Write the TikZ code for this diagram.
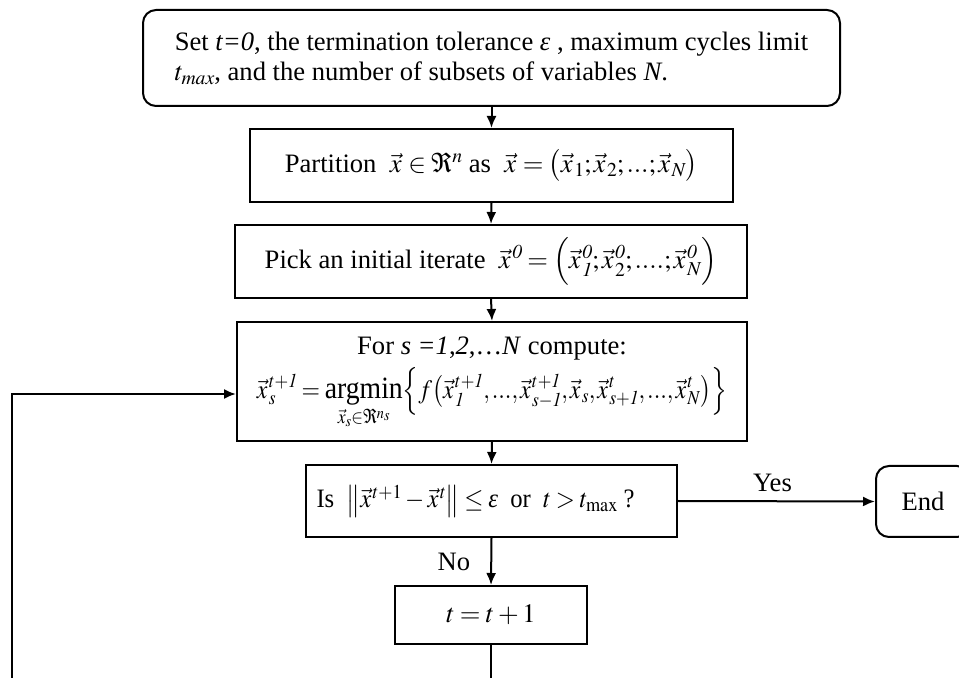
\documentclass[tikz,border=0pt]{standalone}
\usepackage{amsmath}
\usepackage{graphicx}
\usepackage{mathptmx}
\usepackage{fontspec}
\setmainfont{Liberation Serif}
\usetikzlibrary{arrows.meta}
\newcommand{\vx}{\vec{x}\mkern1mu}
\newcommand{\veps}{\mbox{\itshape ε}}
\newcommand{\tightmath}{\thinmuskip=1.5mu\medmuskip=2.5mu plus 1mu\thickmuskip=3.5mu plus 2mu\scriptspace=0pt}
\begin{document}
\begin{tikzpicture}[x=0.5pt,y=-0.5pt,
  box/.style={draw,line width=1pt,inner sep=0pt,align=center,font=\fontsize{13.3}{15}\selectfont\tightmath},
  rbox/.style={box,rounded corners=6.5pt},
  flow/.style={line width=1pt,-{Latex[length=6pt,width=5pt]}},
  plain/.style={line width=1pt},
  lbl/.style={inner sep=0pt,font=\fontsize{13.3}{15}\selectfont}]
\useasboundingbox (0,0) rectangle (959,678);
\clip (0,0) rectangle (959,678);
\node[rbox,minimum width=348.5pt,minimum height=48pt,align=left] (b1) at (491.5,58)
  {Set \textit{t=0}, the termination tolerance \veps\ , maximum cycles limit\\
   $t_{\mathit{max}}$, and the number of subsets of variables \textit{N}.};
\node[box,minimum width=241.5pt,minimum height=36.5pt] (b2) at (491.5,165.5)
  {Partition~ $\vx\in\Re^{n}$ as~ $\vx=\bigl(\vx_{1};\vx_{2};...;\vx_{N}\bigr)$};
\node[box,minimum width=256pt,minimum height=36.5pt] (b3) at (491,261.5)
  {Pick an initial iterate~ $\vx^{\mathit{0}}=\Bigl(\vx_{\mathit{1}}^{\mathit{0}};\vx_{2}^{\mathit{0}};....;\vx_{N}^{\mathit{0}}\Bigr)$};
\node[box,minimum width=255pt,minimum height=59.5pt] (b4) at (492,381.5)
  {\raisebox{4pt}{\begin{tabular}{@{}c@{}}
   For \textit{s =1},\textit{2},\dots\textit{N} compute:\\[2pt]
   \resizebox{235pt}{\height}{$\displaystyle \vx_{s}^{t+\mathit{1}}=\mathop{\mbox{\fontsize{15.5}{16}\selectfont argmin}}\limits_{\vec{x}_{s}\in\Re^{n_s}}\Bigl\{f\bigl(\vx_{\mathit{1}}^{t+\mathit{1}},...,\vx_{s-\mathit{1}}^{t+\mathit{1}},\vx_{s},\vx_{s+\mathit{1}}^{t},...,\vx_{N}^{t}\bigr)\Bigr\}$}
   \end{tabular}}};
\node[box,minimum width=185.5pt,minimum height=36pt] (b5) at (491.5,501)
  {\makebox[175pt][l]{\resizebox{159pt}{\height}{Is \ $\left\|\vx^{t+1}-\vx^{t}\right\|\le\veps$\ \ or\ \ $t>t_{\max}$ ?}}};
\node[rbox,minimum width=47pt,minimum height=35.5pt] (end) at (923,501.5) {End};
\node[box,minimum width=96pt,minimum height=29pt] (b6) at (491,615) {$t=t+1$};
\coordinate (c1) at (491,678);
\coordinate (c2) at (12,678);
\coordinate (c3) at (12,394);
\draw[flow] (b1.south) -- (b2.north);
\draw[flow] (b2.south) -- (b3.north);
\draw[flow] (b3.south) -- (b4.north);
\draw[flow] (b4.south) -- (b5.north);
\draw[flow] (b5.east) -- node[lbl,above=4pt,xshift=-2pt] {Yes} (end.west);
\draw[flow] (b5.south) -- node[lbl,left=10pt] {No} (b6.north);
\draw[plain] (b6.south) -- (c1);
\draw[flow] (c2) -- (c3) -- (c3 -| b4.west);
\end{tikzpicture}
\end{document}
